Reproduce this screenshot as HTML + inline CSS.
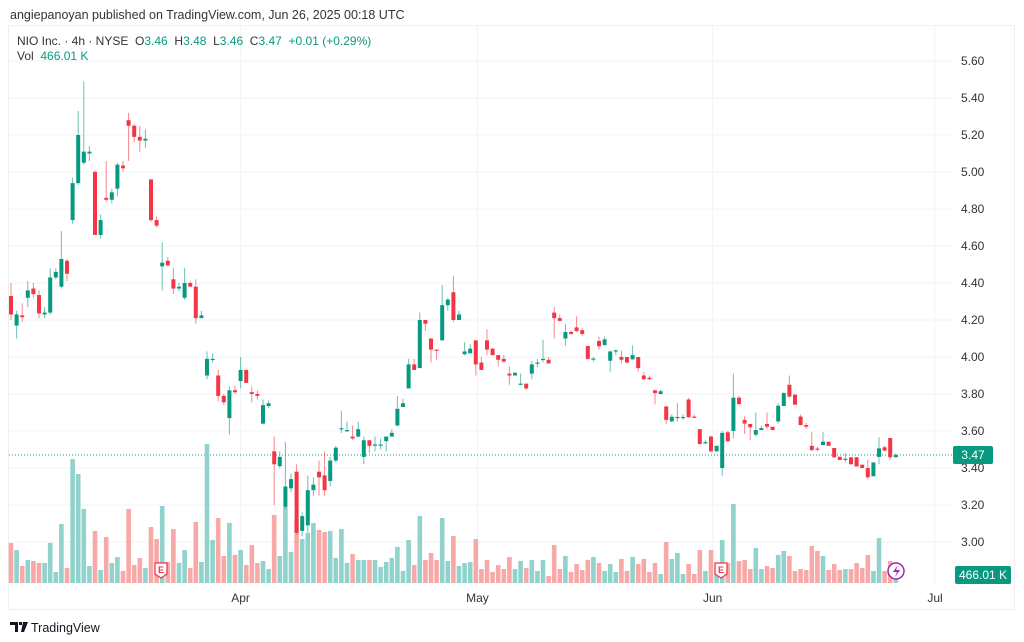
<!DOCTYPE html>
<html><head><meta charset="utf-8"><style>
html,body{margin:0;padding:0;background:#fff;}
svg{display:block;font-family:"Liberation Sans",sans-serif;}
.pre{white-space:pre;}
</style></head><body>
<svg id="chart" width="1024" height="642" viewBox="0 0 1024 642">
  <text x="10" y="19" font-size="12.5" fill="#333">angiepanoyan published on TradingView.com, Jun 26, 2025 00:18 UTC</text>
  <rect x="8.5" y="25.5" width="1006" height="584" fill="none" stroke="#eceef2"/>
  <g id="grid"></g>
  <g id="vols"></g>
  <g id="candles"></g>
  <g id="yaxis"></g>
  <g id="xaxis"></g>
  <text class="pre" x="17" y="45" font-size="12" fill="#333">NIO Inc. · 4h · NYSE  O<tspan fill="#089981">3.46</tspan>  H<tspan fill="#089981">3.48</tspan>  L<tspan fill="#089981">3.46</tspan>  C<tspan fill="#089981">3.47</tspan>  <tspan fill="#089981">+0.01 (+0.29%)</tspan></text>
  <text class="pre" x="17" y="60" font-size="12" fill="#333">Vol  <tspan fill="#089981">466.01 K</tspan></text>
  <g>
    <rect x="953" y="446" width="40" height="18" rx="2" fill="#089981"/>
    <text x="973" y="459" font-size="12" fill="#fff" text-anchor="middle">3.47</text>
  </g>
  <g>
    <rect x="955" y="566" width="56" height="18" rx="2" fill="#089981"/>
    <text x="983" y="579" font-size="12" fill="#fff" text-anchor="middle">466.01 K</text>
  </g>
  <g>
    <path d="M155 563 h12 v11 l-6 4 l-6 -4 z" fill="#fff" stroke="#f23645" stroke-width="1.3"/>
    <text x="161" y="573" font-size="9" fill="#f23645" text-anchor="middle" font-weight="bold">E</text>
  </g>
  <g>
    <path d="M715 563 h12 v11 l-6 4 l-6 -4 z" fill="#fff" stroke="#f23645" stroke-width="1.3"/>
    <text x="721" y="573" font-size="9" fill="#f23645" text-anchor="middle" font-weight="bold">E</text>
  </g>
  <g>
    <circle cx="896" cy="571" r="8" fill="#fff" stroke="#9c27b0" stroke-width="1.5"/>
    <path d="M898 565 l-5 7 h4 l-2 5 l5 -7 h-4 z" fill="#9c27b0"/>
  </g>
  <g>
    <path d="M10 622 h8 v10 h-3 v-7 h-5 z M19 622 h3 v3 h-3 z M23 622 h5 l-4 10 h-3 z" fill="#131722"/>
    <text x="31" y="632" font-size="12.5" fill="#131722">TradingView</text>
  </g>
</svg>
<script>
const opens =  [4.33,4.17,4.225,4.32,4.37,4.335,4.23,4.24,4.43,4.38,4.52,4.74,4.94,5.05,5.10,5.00,4.66,4.86,4.85,4.91,5.035,5.28,5.25,5.19,5.17,4.96,4.74,4.49,4.52,4.42,4.37,4.32,4.40,4.38,4.21,3.90,3.985,3.90,3.79,3.67,3.82,3.87,3.93,3.81,3.80,3.64,3.735,3.49,3.41,3.19,3.29,3.38,3.06,3.09,3.28,3.38,3.36,
3.33,3.44,3.61,3.60,3.57,3.57,3.46,3.55,3.525,3.525,3.545,3.57,3.63,3.73,3.83,3.96,3.94,4.20,4.10,4.04,4.09,4.28,4.35,4.20,4.015,4.02,4.09,3.97,4.09,4.045,4.01,3.99,3.91,3.90,3.855,3.856,3.91,3.965,3.985,3.985,4.24,4.21,4.10,4.135,4.16,4.145,4.06,3.99,4.087,4.065,3.98,4.033,4.00,4.00,3.987,4.00,3.90,3.888,3.82,3.80,3.733,
3.652,3.674,3.672,3.77,3.678,3.61,3.537,3.57,3.49,3.40,3.593,3.60,3.78,3.66,3.638,3.58,3.605,3.638,3.623,3.652,3.735,3.85,3.796,3.678,3.632,3.52,3.505,3.524,3.542,3.508,3.461,3.447,3.458,3.458,3.418,3.40,3.355,3.46,3.512,3.562,3.458];
const highs =  [4.40,4.25,4.29,4.41,4.40,4.36,4.27,4.48,4.48,4.68,4.53,4.97,5.33,5.49,5.14,5.01,4.77,5.06,4.91,5.05,5.06,5.32,5.26,5.25,5.23,4.96,4.76,4.62,4.54,4.48,4.40,4.48,4.41,4.42,4.25,4.03,4.02,3.93,3.80,3.84,3.845,4.00,3.93,3.84,3.82,3.77,3.765,3.57,3.49,3.54,3.37,3.42,3.16,3.36,3.35,3.44,3.49,
3.46,3.52,3.71,3.65,3.63,3.65,3.57,3.55,3.57,3.56,3.57,3.61,3.79,3.775,3.99,3.99,4.24,4.20,4.10,4.04,4.39,4.32,4.44,4.25,4.08,4.07,4.09,4.00,4.15,4.05,4.01,4.01,3.95,3.915,3.91,3.856,3.98,3.99,4.094,4.00,4.27,4.23,4.18,4.145,4.22,4.155,4.06,4.00,4.11,4.11,4.035,4.04,4.036,4.00,4.063,4.00,3.92,3.90,3.823,3.823,3.733,
3.69,3.75,3.69,3.78,3.69,3.61,3.55,3.575,3.52,3.60,3.60,3.91,3.79,3.68,3.638,3.70,3.63,3.70,3.623,3.75,3.81,3.90,3.804,3.69,3.645,3.593,3.515,3.593,3.542,3.51,3.461,3.48,3.458,3.458,3.418,3.443,3.43,3.566,3.52,3.562,3.48];
const lows =   [4.20,4.10,4.19,4.27,4.32,4.21,4.21,4.23,4.42,4.37,4.41,4.72,4.93,5.04,5.06,4.66,4.64,4.84,4.83,4.87,5.00,5.06,5.16,5.11,5.13,4.73,4.70,4.36,4.49,4.34,4.355,4.31,4.38,4.18,4.21,3.88,3.97,3.76,3.74,3.58,3.80,3.83,3.86,3.755,3.77,3.635,3.725,3.20,3.40,3.18,3.27,3.04,3.03,3.05,3.25,3.25,3.25,
3.30,3.43,3.59,3.595,3.55,3.565,3.42,3.48,3.49,3.50,3.49,3.57,3.625,3.73,3.83,3.93,3.94,4.14,3.97,3.985,4.09,4.25,4.19,4.20,4.01,4.02,3.90,3.93,4.01,4.01,3.95,3.97,3.85,3.90,3.847,3.823,3.88,3.946,3.97,3.965,4.10,4.195,4.06,4.12,4.135,4.115,3.985,3.975,4.04,4.06,3.92,4.01,3.965,3.965,3.987,3.92,3.874,3.874,3.744,3.798,3.636,
3.647,3.652,3.66,3.672,3.67,3.526,3.53,3.485,3.49,3.355,3.544,3.56,3.737,3.584,3.55,3.57,3.605,3.61,3.605,3.64,3.735,3.78,3.742,3.63,3.61,3.49,3.49,3.524,3.52,3.454,3.443,3.43,3.42,3.408,3.40,3.34,3.355,3.42,3.49,3.443,3.458];
const closes = [4.23,4.23,4.215,4.36,4.34,4.235,4.24,4.43,4.46,4.53,4.45,4.94,5.20,5.11,5.11,4.66,4.74,4.85,4.89,5.04,5.02,5.25,5.19,5.17,5.18,4.74,4.71,4.51,4.495,4.37,4.38,4.40,4.38,4.21,4.225,3.99,3.99,3.79,3.755,3.82,3.81,3.93,3.86,3.80,3.79,3.74,3.75,3.42,3.46,3.30,3.34,3.05,3.14,3.28,3.31,3.35,3.28,
3.44,3.51,3.615,3.605,3.56,3.61,3.55,3.52,3.527,3.527,3.57,3.59,3.72,3.75,3.96,3.93,4.20,4.18,4.04,4.035,4.28,4.31,4.20,4.23,4.03,4.045,3.96,3.93,4.04,4.01,3.985,3.975,3.90,3.915,3.856,3.83,3.96,3.97,3.99,3.965,4.21,4.195,4.135,4.125,4.14,4.125,3.99,3.992,4.058,4.095,4.03,4.036,3.985,3.97,4.01,3.94,3.88,3.88,3.805,3.815,3.66,
3.677,3.676,3.676,3.674,3.674,3.53,3.54,3.49,3.52,3.59,3.544,3.78,3.746,3.64,3.62,3.605,3.616,3.623,3.605,3.737,3.805,3.786,3.742,3.632,3.623,3.497,3.50,3.542,3.52,3.458,3.443,3.45,3.42,3.408,3.40,3.35,3.43,3.506,3.494,3.458,3.47];
const volumesK = [2000,1650,850,1150,1100,1000,1000,2000,550,2950,750,6200,5450,3700,850,2600,650,2300,1000,1300,600,3700,900,1250,750,2800,2200,3850,1050,2700,1000,1650,750,3050,1050,6950,2150,3250,1350,3000,1400,1650,900,1900,1000,1100,700,3400,1350,3800,1550,3200,2200,2500,3000,2650,2550,
2600,1250,2700,1000,1450,1150,1150,1150,1150,800,1050,1250,1800,600,2150,900,3350,1150,1500,1150,3250,1100,2350,850,1000,1050,2200,700,1150,550,900,700,1300,700,1100,750,1150,600,1150,350,1900,700,1350,550,950,650,1150,1300,1000,600,950,550,1200,600,1300,950,1200,550,1000,450,2050,
1200,1500,450,950,450,1650,600,1650,750,2150,1000,3950,1100,1150,700,1750,700,850,750,1400,1600,1350,600,700,650,1850,1600,1350,650,950,650,700,700,1000,750,1400,600,2250,600,1100,466];
const priceTicks = [5.60,5.40,5.20,5.00,4.80,4.60,4.40,4.20,4.00,3.80,3.60,3.40,3.20,3.00];
const monthLabels = ["Apr","May","Jun","Jul"];
const monthIndex = [41.0,83.3,125.3,165.0];
const lastPrice = 3.47;

const NS="http://www.w3.org/2000/svg";
const X0=11, DX=5.6, Y300=542, PXPER=185, VBASE=583, VSCALE=0.02;
function xAt(i){return X0+i*DX;}
function yAt(p){return Y300-(p-3)*PXPER;}
function vh(v){return v*VSCALE;}
function mk(tag,attrs,parent){const e=document.createElementNS(NS,tag);for(const k in attrs)e.setAttribute(k,attrs[k]);parent.appendChild(e);return e;}
const grid=document.getElementById('grid'),vols=document.getElementById('vols'),cg=document.getElementById('candles'),ya=document.getElementById('yaxis'),xa=document.getElementById('xaxis');
priceTicks.forEach(p=>{
  const l=mk('line',{x1:9,x2:953,y1:yAt(p),y2:yAt(p),stroke:'#f2f3f5','stroke-width':1},grid);
  
  
  const t=mk('text',{x:961,y:yAt(p)+4,'font-size':12,fill:'#333'},ya);
  t.textContent=p.toFixed(2);
  
  
});
monthLabels.forEach((m,k)=>{
  const x=xAt(monthIndex[k]);
  const l=mk('line',{x1:x,x2:x,y1:26,y2:585,stroke:'#f2f3f5','stroke-width':1},grid);
  
  
  const t=mk('text',{x:x,y:602,'font-size':12,fill:'#333','text-anchor':'middle'},xa);
  t.textContent=m;
  
  
});
const ll=mk('line',{x1:9,x2:953,y1:yAt(lastPrice),y2:yAt(lastPrice),stroke:'#089981','stroke-width':1,'stroke-dasharray':'1 2'},grid);


for(let i=0;i<opens.length;i++){
  const up=closes[i]>=opens[i];
  const x=xAt(i);
  const h=vh(volumesK[i]);
  const vb=mk('rect',{x:x-2.3,y:VBASE-h,width:4.6,height:h,fill:up?'#92d2cc':'#f7a9a7'},vols);
  
  
  const col=up?'#089981':'#f23645';
  const w=mk('line',{x1:x,x2:x,y1:yAt(highs[i]),y2:yAt(lows[i]),stroke:col,'stroke-width':1,'stroke-opacity':0.6},cg);
  
  
  const top=yAt(Math.max(opens[i],closes[i])),bot=yAt(Math.min(opens[i],closes[i]));
  const b=mk('rect',{x:x-2,y:top,width:4,height:Math.max(1.2,bot-top),fill:col},cg);
  
  
}
</script>
</body></html>
